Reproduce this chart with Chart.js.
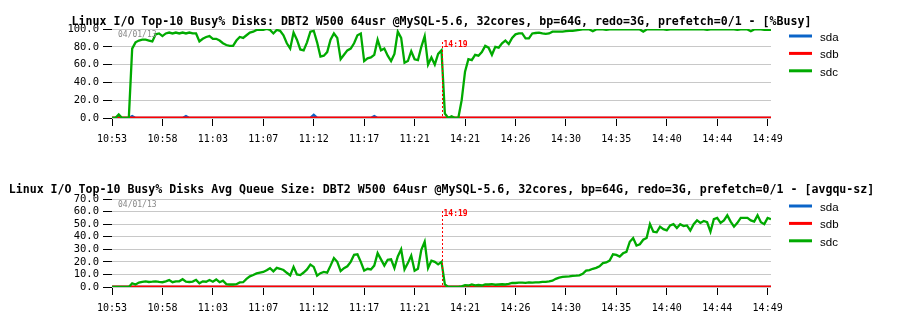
<!DOCTYPE html>
<html><head><meta charset="utf-8">
<script src="https://cdn.jsdelivr.net/npm/chart.js@4.4.1/dist/chart.umd.min.js"></script>
<style>
html,body{margin:0;padding:0;background:#fff;}
#wrap{position:relative;width:907px;height:320px;}
canvas{position:absolute;left:0;}
</style></head><body>
<div id="wrap">
<canvas id="c1" width="907" height="160" style="top:0"></canvas>
<canvas id="c2" width="907" height="160" style="top:160px"></canvas>
</div>
<script>
// ---------------- data ----------------
const seriesNames = ['sda', 'sdb', 'sdc'];
const seriesColors = ['#0a64c8', '#ff0000', '#00aa00'];
const seriesWidths = [2.5, 3, 2.3];
const tickLabels = ['10:53','10:58','11:03','11:07','11:12','11:17','11:21','14:21','14:26','14:30','14:35','14:40','14:44','14:49'];
const pointsPerTick = 15;
const busyTicks = [0, 20, 40, 60, 80, 100];
const queueTicks = [0, 10, 20, 30, 40, 50, 60, 70];
const dateLabel = '04/01/13';
const markerLabel = '14:19';
const markerIndex = 98;
const titleBusy = 'Linux I/O Top-10 Busy% Disks: DBT2 W500 64usr @MySQL-5.6, 32cores, bp=64G, redo=3G, prefetch=0/1 - [%Busy]';
const titleQueue = 'Linux I/O Top-10 Busy% Disks Avg Queue Size: DBT2 W500 64usr @MySQL-5.6, 32cores, bp=64G, redo=3G, prefetch=0/1 - [avgqu-sz]';

const busySda = [
0,0,2,0,0,0,2,0,0,0, 0,0,0,0,0,0,0,0,0,0, 0,0,2,0,0,0,0,0,0,0, 0,0,0,0,0,0,0,0,0,0,
0,0,0,0,0,0,0,0,0,0, 0,0,0,0,0,0,0,0,0,0, 3.5,0,0,0,0,0,0,0,0,0, 0,0,0,0,0,0,0,0,2,0,
0,0,0,0,0,0,0,0,0,0, 0,0,0,0,0,0,0,0,0,0, 0,0,0,0,0,0,0,0,0,0, 0,0,0,0,0,0,0,0,0,0,
0,0,0,0,0,0,0,0,0,0, 0,0,0,0,0,0,0,0,0,0, 0,0,0,0,0,0,0,0,0,0, 0,0,0,0,0,0,0,0,0,0,
0,0,0,0,0,0,0,0,0,0, 0,0,0,0,0,0,0,0,0,0, 0,0,0,0,0,0,0,0,0,0, 0,0,0,0,0,0,0,0,0,0,
0,0,0,0,0,0,0
];
const busySdb = [
0,0,0,0,0,0,0,0,0,0, 0,0,0,0,0,0,0,0,0,0, 0,0,0,0,0,0,0,0,0,0, 0,0,0,0,0,0,0,0,0,0,
0,0,0,0,0,0,0,0,0,0, 0,0,0,0,0,0,0,0,0,0, 0,0,0,0,0,0,0,0,0,0, 0,0,0,0,0,0,0,0,0,0,
0,0,0,0,0,0,0,0,0,0, 0,0,0,0,0,0,0,0,0,0, 0,0,0,0,0,0,0,0,0,0, 0,0,0,0,0,0,0,0,0,0,
0,0,0,0,0,0,0,0,0,0, 0,0,0,0,0,0,0,0,0,0, 0,0,0,0,0,0,0,0,0,0, 0,0,0,0,0,0,0,0,0,0,
0,0,0,0,0,0,0,0,0,0, 0,0,0,0,0,0,0,0,0,0, 0,0,0,0,0,0,0,0,0,0, 0,0,0,0,0,0,0,0,0,0,
0,0,0,0,0,0,0
];
const busySdc = [
0,0,4,0,0,0,78,85,87,88,
88,87,86,94,95,92,95,96,95,96,
95,96,95,96,95,95,86,89,91,92,
89,89,87,84,82,81,81,87,91,90,
93,96,97,99,99,99,100,99,95,99,
98,93,84,78,96,88,77,76,85,97,
98,85,69,70,74,88,95,90,66,71,
76,78,84,93,95,64,67,68,71,88,
76,78,70,64,72,97,90,62,64,75,
66,65,80,92,60,68,60,72,76,5,
0,2,0,0,20,52,66,65,71,70,
74,81,79,71,80,79,84,87,83,90,
94,95,95,89.5,89.5,95,95.5,96,95,94.5,
95,97,97,97,97,97.5,98,98,98.5,99,
99.5,99.5,99.5,97.5,99.5,99.5,99.5,99,99.5,99.5,
99.5,99.5,99.5,99.5,99.5,99.5,99.5,99.5,97,99.5,
99.5,99.5,99.5,99.5,99.5,99,99.5,99.5,99.5,99.5,
99.5,99.5,99.5,99.5,99.5,99.5,99.5,99,99.5,99.5,
99.5,99.5,99.5,99.5,99.5,99.5,99,99.5,99.5,99.5,
97.5,99.5,99.5,99.5,99,99,99
];

const queueSda = [
0,0,0,0,0,0,0,0,0,0, 0,0,0,0,0,0,0,0,0,0, 0,0,0,0,0,0,0,0,0,0, 0,0,0,0,0,0,0,0,0,0,
0,0,0,0,0,0,0,0,0,0, 0,0,0,0,0,0,0,0,0,0, 0,0,0,0,0,0,0,0,0,0, 0,0,0,0,0,0,0,0,0,0,
0,0,0,0,0,0,0,0,0,0, 0,0,0,0,0,0,0,0,0,0, 0,0,0,0,0,0,0,0,0,0, 0,0,0,0,0,0,0,0,0,0,
0,0,0,0,0,0,0,0,0,0, 0,0,0,0,0,0,0,0,0,0, 0,0,0,0,0,0,0,0,0,0, 0,0,0,0,0,0,0,0,0,0,
0,0,0,0,0,0,0,0,0,0, 0,0,0,0,0,0,0,0,0,0, 0,0,0,0,0,0,0,0,0,0, 0,0,0,0,0,0,0,0,0,0,
0,0,0,0,0,0,0
];
const queueSdb = [
0,0,0,0,0,0,0,0,0,0, 0,0,0,0,0,0,0,0,0,0, 0,0,0,0,0,0,0,0,0,0, 0,0,0,0,0,0,0,0,0,0,
0,0,0,0,0,0,0,0,0,0, 0,0,0,0,0,0,0,0,0,0, 0,0,0,0,0,0,0,0,0,0, 0,0,0,0,0,0,0,0,0,0,
0,0,0,0,0,0,0,0,0,0, 0,0,0,0,0,0,0,0,0,0, 0,0,0,0,0,0,0,0,0,0, 0,0,0,0,0,0,0,0,0,0,
0,0,0,0,0,0,0,0,0,0, 0,0,0,0,0,0,0,0,0,0, 0,0,0,0,0,0,0,0,0,0, 0,0,0,0,0,0,0,0,0,0,
0,0,0,0,0,0,0,0,0,0, 0,0,0,0,0,0,0,0,0,0, 0,0,0,0,0,0,0,0,0,0, 0,0,0,0,0,0,0,0,0,0,
0,0,0,0,0,0,0
];
const queueSdc = [
0,0,0,0,0,0,3,2,3.5,4,
4.5,4,4.2,4.5,4,3.8,4.5,5.5,3.8,4.5,
4.5,6.2,4.2,4,4.3,5.7,3,4.5,4.2,5.5,
4.2,6,3.8,5,2.3,2,2,2.2,3.6,3.8,
6.5,8.5,9.5,10.8,11.5,12,13.4,15,12.5,15.2,
14.5,13.5,11.3,9.3,16,10,9.5,11.5,14,17.8,
16,9,11,12,11.4,17,23,20,12.7,15,
16.5,20,25.6,26,20,13,14.5,14,17,26.9,
22,17,21.7,22,15,24.3,30,14,19,25,
13,14.5,29.5,36,15,21,20,18,20,2,
0,0,0,0,0.5,1.5,1.2,2,1.3,1.6,
1.2,2,2,2.2,1.8,2,2.2,2,2.5,3.3,
3.2,3.4,3.5,3.3,3.6,3.5,3.6,3.7,4,4.1,
4.5,5,6.5,7.5,8,8.3,8.5,8.8,9,9.3,
10.5,13,13.5,14.5,15.2,16.5,19,19.5,21,26,
25.5,24.2,26.8,28,36,39,33,34,37.6,39,
50,44,43.5,48,46,45,49,50,47,50,
48.5,49,45,50,53,51,52.5,51.5,44,54,
55,51,53,57,52,48,51,55,55,55,
53,52,57,51.5,50,55,54
];

// ---------------- chart ----------------
const pointIndex = busySdc.map((v, i) => i);

const panelPlugin = {
  id: 'panel',
  afterDraw(chart, args, o) {
    const ctx = chart.ctx, a = chart.chartArea, xs = chart.scales.x;
    ctx.save();
    ctx.font = 'bold 11.6px "DejaVu Sans Mono"';
    ctx.fillStyle = '#000';
    ctx.textAlign = 'center';
    ctx.textBaseline = 'alphabetic';
    ctx.fillText(o.title, (a.left + a.right) / 2, a.top - o.titleGap);
    ctx.font = '8px "DejaVu Sans Mono"';
    ctx.fillStyle = '#888';
    ctx.textAlign = 'left';
    ctx.fillText(o.date, a.left + 6, a.top + 8);
    const mx = Math.round(xs.getPixelForValue(o.markerIndex)) + 0.5;
    const top = a.top + o.markerTop;
    ctx.strokeStyle = '#ff0000';
    ctx.lineWidth = 1;
    ctx.setLineDash([2, 2]);
    ctx.beginPath(); ctx.moveTo(mx, top); ctx.lineTo(mx, a.bottom); ctx.stroke();
    ctx.setLineDash([]);
    ctx.font = 'bold 8px "DejaVu Sans Mono"';
    ctx.fillStyle = '#ff0000';
    ctx.fillText(o.markerLabel, mx + 1, top + 5);
    chart.data.datasets.forEach((d, i) => {
      const y = a.top + 7 + i * 17.4;
      ctx.strokeStyle = d.borderColor;
      ctx.lineWidth = 3;
      ctx.beginPath(); ctx.moveTo(789, y); ctx.lineTo(812, y); ctx.stroke();
      ctx.fillStyle = '#000';
      ctx.font = '11.5px "Liberation Sans"';
      ctx.textAlign = 'left';
      ctx.fillText(d.label, 820, y + 5);
    });
    ctx.restore();
  }
};

function makeChart(id, series, yTicks, padTop, plotBottom, title, titleGap, markerTop) {
  const datasets = series.map((s, i) => ({
    label: seriesNames[i],
    data: s,
    borderColor: seriesColors[i],
    backgroundColor: seriesColors[i],
    borderWidth: seriesWidths[i],
    pointRadius: 0,
    tension: 0,
    fill: false,
    order: series.length - 1 - i
  }));
  return new Chart(document.getElementById(id), {
    type: 'line',
    data: { labels: pointIndex, datasets },
    plugins: [panelPlugin],
    options: {
      responsive: false,
      animation: false,
      devicePixelRatio: 1,
      events: [],
      layout: { padding: { top: padTop, right: 136, bottom: 0, left: 0 }, autoPadding: false },
      plugins: {
        legend: { display: false },
        tooltip: { enabled: false },
        title: { display: false },
        panel: { title, titleGap, date: dateLabel, markerIndex, markerLabel, markerTop }
      },
      scales: {
        x: {
          type: 'linear',
          min: 0,
          max: pointIndex.length - 1,
          afterFit: s => { s.height = 160 - plotBottom; },
          afterBuildTicks: s => { s.ticks = tickLabels.map((t, i) => ({ value: i * pointsPerTick })); },
          ticks: {
            autoSkip: false, maxRotation: 0, padding: 7, color: '#000',
            font: { family: '"DejaVu Sans Mono"', size: 10 },
            callback: v => tickLabels[Math.round(v / pointsPerTick)]
          },
          grid: { drawOnChartArea: false, drawTicks: true, tickLength: 8, tickColor: '#000', color: '#000' },
          border: { display: false }
        },
        y: {
          min: yTicks[0], max: yTicks[yTicks.length - 1],
          afterFit: s => { s.width = 112; },
          afterBuildTicks: s => { s.ticks = yTicks.map(v => ({ value: v })); },
          ticks: {
            autoSkip: false, padding: 4, color: '#000',
            font: { family: '"DejaVu Sans Mono"', size: 10.5 },
            callback: v => v.toFixed(1)
          },
          grid: { color: '#c8c8c8', tickColor: '#000', tickLength: 9, lineWidth: 1 },
          border: { display: false }
        }
      }
    }
  });
}

makeChart('c1', [busySda, busySdb, busySdc], busyTicks, 29, 118, titleBusy, 4, 13);
makeChart('c2', [queueSda, queueSdb, queueSdc], queueTicks, 39, 127, titleQueue, 6, 12);
</script>
</body></html>
